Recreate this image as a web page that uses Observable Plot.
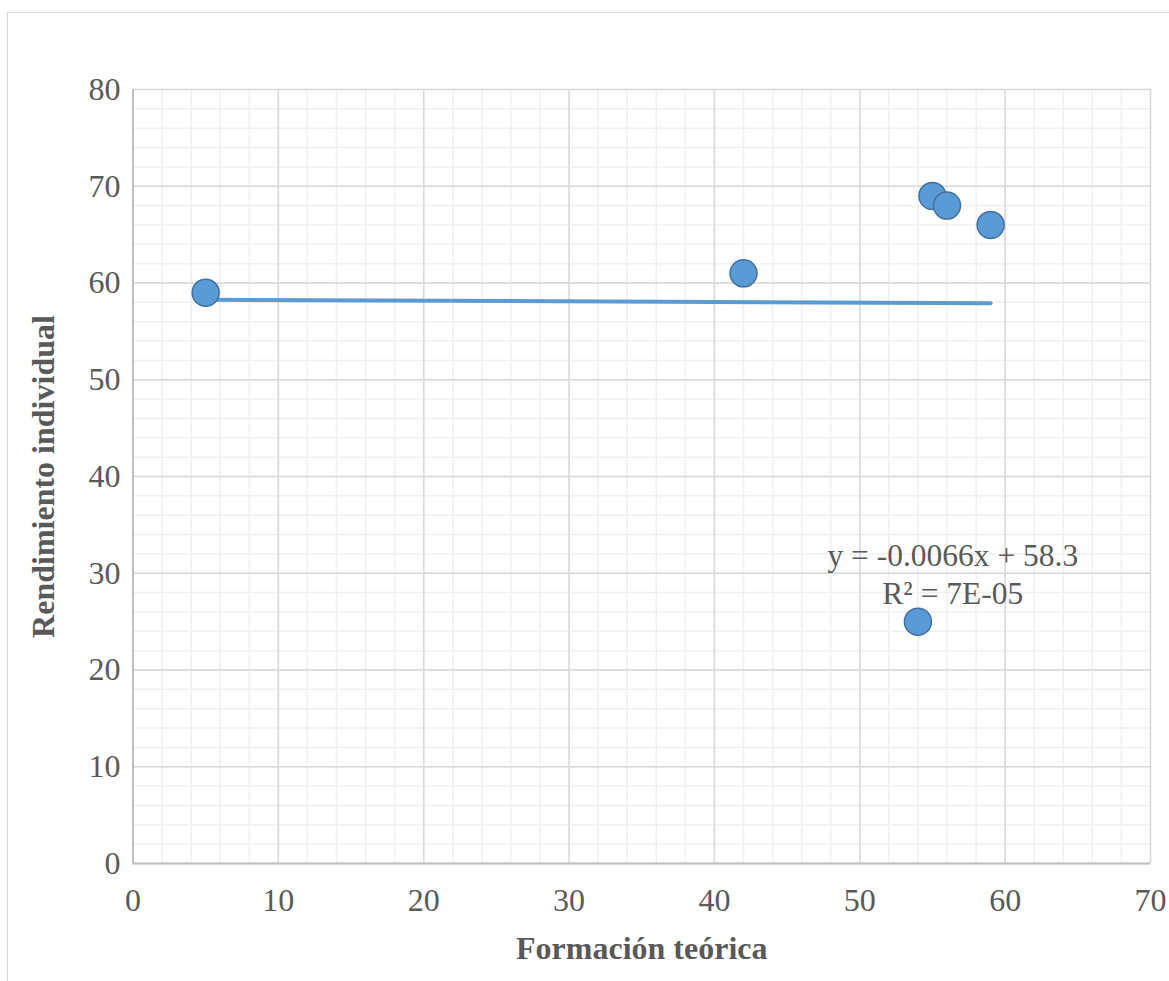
<!DOCTYPE html>
<html>
<head>
<meta charset="utf-8">
<script src="https://cdn.jsdelivr.net/npm/d3@7"></script>
<script src="https://cdn.jsdelivr.net/npm/@observablehq/plot@0.6"></script>
<style>
  html, body { margin: 0; padding: 0; background: #fff; overflow: hidden; }
  #wrap { position: relative; width: 1169px; height: 981px; }
  #border { position: absolute; left: 7px; top: 11.5px; width: 1400px; height: 1200px;
            border: 1.5px solid #d9d9d9; box-sizing: border-box; }
  #chart { position: absolute; left: 0; top: 0; }
</style>
</head>
<body>
<div id="wrap"><div id="border"></div><div id="chart"></div></div>
<script>
// Data
const formacion = [5, 42, 55, 56, 59, 54];
const rendimiento = [59, 61, 69, 68, 66, 25];
const xTicks = [0, 10, 20, 30, 40, 50, 60, 70];
const yTicks = [0, 10, 20, 30, 40, 50, 60, 70, 80];
const xMinor = d3.range(0, 71, 2);
const yMinor = d3.range(0, 81, 2);
const xTitle = "Formación teórica";
const yTitle = "Rendimiento individual";
const eqLines = ["y = -0.0066x + 58.3", "R² = 7E-05"];
const eqX = [56.4, 56.4];
const eqY = [30.7, 26.85];

const points = formacion.map((x, i) => ({x, y: rendimiento[i]}));
const eq = eqLines.map((t, i) => ({t, x: eqX[i], y: eqY[i]}));

const font = "'Liberation Serif', 'Times New Roman', serif";
const grey = "#595959";

const chart = Plot.plot({
  width: 1169,
  height: 981,
  marginLeft: 132.5,
  marginRight: 19,
  marginTop: 89,
  marginBottom: 118,
  style: {fontFamily: font, background: "transparent"},
  x: {domain: [0, 70]},
  y: {domain: [0, 80]},
  marks: [
    Plot.gridX(xMinor, {stroke: "#f0f0f0", strokeOpacity: 1, strokeWidth: 1.5}),
    Plot.gridY(yMinor, {stroke: "#f0f0f0", strokeOpacity: 1, strokeWidth: 1.5}),
    Plot.gridX(xTicks, {stroke: "#d9d9d9", strokeOpacity: 1, strokeWidth: 1.5}),
    Plot.gridY(yTicks, {stroke: "#d9d9d9", strokeOpacity: 1, strokeWidth: 1.5}),
    Plot.ruleX([0], {stroke: "#bfbfbf", strokeWidth: 2}),
    Plot.ruleY([0], {stroke: "#bfbfbf", strokeWidth: 2}),
    Plot.axisX(xTicks, {tickSize: 0, tickPadding: 25, fontSize: 32, color: grey, label: null}),
    Plot.axisY(yTicks, {tickSize: 0, tickPadding: 12.5, fontSize: 32, color: grey, label: null}),
    Plot.linearRegressionY(points, {x: "x", y: "y", ci: 0, stroke: "#5b9bd5", strokeWidth: 4}),
    Plot.dot(points, {x: "x", y: "y", r: 13.5, fill: "#5b9bd5", stroke: "#41719c", strokeWidth: 1.5, fillOpacity: 1}),
    Plot.text(eq, {x: "x", y: "y", text: "t", fontSize: 31.5, fill: grey, textAnchor: "middle", lineAnchor: "bottom"}),
    Plot.text([xTitle], {frameAnchor: "bottom", dy: 95, fontSize: 32, fontWeight: "bold", fill: grey, lineAnchor: "bottom", textAnchor: "middle"}),
    Plot.text([yTitle], {frameAnchor: "left", dx: -79.5, rotate: -90, fontSize: 32, fontWeight: "bold", fill: grey, lineAnchor: "bottom", textAnchor: "middle"})
  ]
});
document.getElementById("chart").appendChild(chart);
</script>
</body>
</html>
